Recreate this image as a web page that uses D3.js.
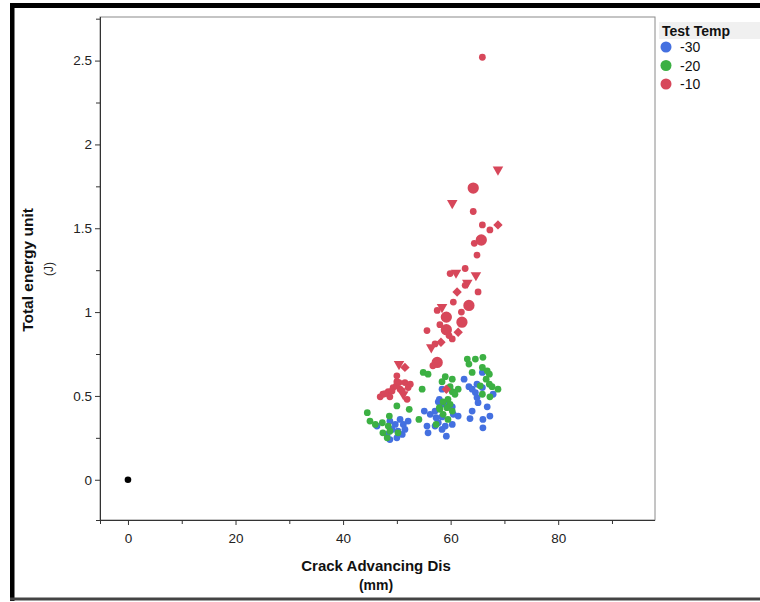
<!DOCTYPE html>
<html>
<head>
<meta charset="utf-8">
<script src="https://cdn.jsdelivr.net/npm/d3@7"></script>
<style>
  body { margin: 0; background: #fff; }
  text { font-family: "Liberation Sans", Arial, sans-serif; }
</style>
</head>
<body>
<div id="chart"></div>
<script>
// Test Temp series, [crack advancing dis (mm), total energy (J), marker kind]
// kind: s = small circle, L = large circle, t = triangle, d = diamond
const tempLabels = ["-30", "-20", "-10"];
const tempColors = ["#4470e0", "#3cb043", "#d7475a"];

const minus30 = [
  [62.5, 0.60], [65.9, 0.64], [63.4, 0.555], [64.9, 0.57], [64.0, 0.54], [64.6, 0.52],
  [65.9, 0.55], [64.9, 0.49], [67.9, 0.51], [65.1, 0.46], [66.8, 0.435], [64.0, 0.41],
  [67.3, 0.38], [63.6, 0.365], [66.0, 0.36], [66.0, 0.31], [58.4, 0.54], [57.9, 0.48],
  [58.4, 0.45], [59.3, 0.45], [57.1, 0.41], [60.3, 0.435], [60.5, 0.39], [61.4, 0.38],
  [58.4, 0.375], [57.7, 0.34], [59.0, 0.32], [60.3, 0.33], [58.4, 0.30], [59.2, 0.26],
  [57.7, 0.465], [55.1, 0.41], [56.2, 0.39], [57.3, 0.37], [55.6, 0.32], [57.1, 0.32],
  [55.8, 0.28], [48.7, 0.35], [49.7, 0.33], [50.6, 0.36], [51.2, 0.33], [52.1, 0.35],
  [49.1, 0.30], [50.2, 0.29], [48.2, 0.27], [50.0, 0.25], [51.0, 0.27], [51.5, 0.30],
  [46.3, 0.32], [48.7, 0.24]
].map(d => [d[0], d[1], "s"]);

const minus20 = [
  [54.9, 0.64], [55.8, 0.63], [54.7, 0.54], [50.0, 0.44], [52.3, 0.42], [44.5, 0.40],
  [45.0, 0.35], [46.0, 0.33], [48.6, 0.38], [54.1, 0.36], [47.3, 0.34], [48.4, 0.32],
  [48.7, 0.29], [47.4, 0.28], [48.2, 0.25], [50.2, 0.28], [57.9, 0.43], [63.1, 0.72],
  [64.6, 0.72], [66.0, 0.73], [63.4, 0.69], [65.9, 0.67], [66.8, 0.65], [64.0, 0.64],
  [67.2, 0.63], [66.6, 0.60], [67.2, 0.57], [67.7, 0.555], [68.8, 0.54], [65.5, 0.56],
  [59.0, 0.615], [60.3, 0.60], [58.4, 0.585], [59.9, 0.555], [61.4, 0.54], [60.3, 0.525],
  [60.8, 0.51], [65.9, 0.51], [67.3, 0.495], [59.5, 0.48], [58.6, 0.465], [59.9, 0.45],
  [58.0, 0.42], [59.3, 0.43], [60.3, 0.41], [58.6, 0.39], [59.5, 0.36], [57.3, 0.33]
].map(d => [d[0], d[1], "s"]);

const minus10 = [
  [65.9, 2.52, "s"], [68.8, 1.85, "t"], [64.2, 1.74, "L"], [60.3, 1.65, "t"],
  [64.2, 1.60, "s"], [65.9, 1.52, "s"], [68.8, 1.52, "d"], [67.3, 1.49, "s"],
  [65.7, 1.43, "L"], [64.4, 1.41, "s"], [64.9, 1.34, "s"], [62.7, 1.26, "s"],
  [59.9, 1.23, "s"], [61.0, 1.235, "t"], [64.7, 1.22, "t"], [63.1, 1.175, "t"],
  [65.1, 1.12, "s"], [61.2, 1.12, "d"], [60.5, 1.06, "s"], [63.4, 1.04, "L"],
  [58.4, 1.03, "t"], [57.5, 1.01, "s"], [62.0, 1.00, "s"], [59.2, 0.97, "L"],
  [58.0, 0.925, "s"], [62.1, 0.94, "L"], [55.6, 0.89, "s"], [59.2, 0.895, "L"],
  [59.7, 0.86, "s"], [61.4, 0.88, "d"], [60.3, 0.84, "s"], [58.2, 0.82, "d"],
  [57.1, 0.81, "s"], [56.4, 0.79, "t"], [57.5, 0.70, "L"], [56.7, 0.68, "s"],
  [50.4, 0.69, "t"], [51.5, 0.67, "d"], [50.0, 0.62, "s"], [50.0, 0.585, "s"],
  [51.5, 0.58, "s"], [52.5, 0.57, "s"], [49.3, 0.55, "s"], [48.4, 0.525, "s"],
  [50.6, 0.54, "s"], [47.4, 0.51, "s"], [48.7, 0.495, "s"], [46.9, 0.495, "s"],
  [51.2, 0.51, "t"], [51.9, 0.48, "s"], [59.2, 0.54, "d"], [62.7, 1.16, "s"],
  [47.8, 0.513, "s"], [49.1, 0.53, "s"], [49.9, 0.56, "s"], [51.0, 0.53, "s"],
  [52.1, 0.55, "s"], [50.4, 0.58, "s"]
];

const origin = [[0, 0]];

const xTicks = [0, 20, 40, 60, 80];
const xMinor = [10, 30, 50, 70, 90];
const yTicks = [0, 0.5, 1, 1.5, 2, 2.5];
const yMinor = [0.25, 0.75, 1.25, 1.75, 2.25, 2.75];

const width = 760, height = 602;
const plot = { left: 100, right: 655, top: 17, bottom: 520 };

const svg = d3.select("#chart").append("svg")
  .attr("width", width)
  .attr("height", height);

// outer frame
svg.append("rect").attr("x", 10).attr("y", 3).attr("width", 750).attr("height", 5).attr("fill", "#000");
svg.append("rect").attr("x", 10).attr("y", 3).attr("width", 4.5).attr("height", 598).attr("fill", "#000");
svg.append("rect").attr("x", 10).attr("y", 597.5).attr("width", 750).attr("height", 3).attr("fill", "#444");

const x = d3.scaleLinear().domain([-5.2, 98]).range([plot.left, plot.right]);
const y = d3.scaleLinear().domain([-0.24, 2.76]).range([plot.bottom, plot.top]);

// plot frame
svg.append("rect")
  .attr("x", plot.left).attr("y", plot.top)
  .attr("width", plot.right - plot.left).attr("height", plot.bottom - plot.top)
  .attr("fill", "#fff").attr("stroke", "#8a8a8a").attr("stroke-width", 1);

const fmt = d => String(d);

const xAxis = svg.append("g")
  .attr("transform", `translate(0,${plot.bottom})`)
  .call(d3.axisBottom(x).tickValues(xTicks).tickFormat(fmt).tickSize(5).tickPadding(8).tickSizeOuter(0));
svg.append("g")
  .attr("transform", `translate(0,${plot.bottom})`)
  .call(d3.axisBottom(x).tickValues(xMinor).tickSize(4).tickFormat("").tickSizeOuter(0))
  .select(".domain").remove();

const yAxis = svg.append("g")
  .attr("transform", `translate(${plot.left},0)`)
  .call(d3.axisLeft(y).tickValues(yTicks).tickFormat(fmt).tickSize(5).tickPadding(3).tickSizeOuter(0));
svg.append("g")
  .attr("transform", `translate(${plot.left},0)`)
  .call(d3.axisLeft(y).tickValues(yMinor).tickSize(4).tickFormat("").tickSizeOuter(0))
  .select(".domain").remove();

svg.selectAll(".tick line").attr("stroke", "#333");
svg.selectAll(".domain").attr("stroke", "#333");
svg.selectAll(".tick text").attr("font-size", 13.5).attr("fill", "#222")
  .style("font-family", "'Liberation Sans', Arial, sans-serif");
xAxis.select(".domain").attr("d", `M${plot.left - 4},0.5H${plot.right}`);
yAxis.select(".domain").attr("d", `M0.5,${plot.top}V${plot.bottom + 4}`);

// axis titles
svg.append("text")
  .attr("x", 376).attr("y", 571)
  .attr("text-anchor", "middle").attr("font-size", 15).attr("font-weight", "bold").attr("fill", "#111")
  .text("Crack Advancing Dis");
svg.append("text")
  .attr("x", 376).attr("y", 590)
  .attr("text-anchor", "middle").attr("font-size", 14).attr("font-weight", "bold").attr("fill", "#111")
  .text("(mm)");
svg.append("text")
  .attr("transform", "translate(33,270) rotate(-90)")
  .attr("text-anchor", "middle").attr("font-size", 15.5).attr("font-weight", "bold").attr("fill", "#111")
  .text("Total energy unit");
svg.append("text")
  .attr("transform", "translate(53,269) rotate(-90)")
  .attr("text-anchor", "middle").attr("font-size", 12).attr("fill", "#222")
  .text("(J)");

// markers
const markerShape = {
  s: { type: d3.symbolCircle, size: 36, rotate: 0 },
  L: { type: d3.symbolCircle, size: 100, rotate: 0 },
  t: { type: d3.symbolTriangle, size: 48, rotate: 180 },
  d: { type: d3.symbolSquare, size: 44, rotate: 45 }
};

const series = [minus30, minus20, minus10];
const points = svg.append("g");
series.forEach((data, i) => {
  points.append("g")
    .selectAll("path")
    .data(data)
    .join("path")
    .attr("d", d => d3.symbol().type(markerShape[d[2]].type).size(markerShape[d[2]].size)())
    .attr("transform", d => `translate(${x(d[0])},${y(d[1])}) rotate(${markerShape[d[2]].rotate})`)
    .attr("fill", tempColors[i]);
});

points.selectAll(".origin")
  .data(origin)
  .join("circle")
  .attr("class", "origin")
  .attr("cx", d => x(d[0]))
  .attr("cy", d => y(d[1]))
  .attr("r", 3.3)
  .attr("fill", "#000");

// legend
const legend = svg.append("g").attr("transform", "translate(659,22)");
legend.append("rect").attr("x", 0).attr("y", 0).attr("width", 101).attr("height", 17).attr("fill", "#f0f0f0");
legend.append("text").attr("x", 3).attr("y", 14).attr("font-size", 14).attr("font-weight", "bold")
  .attr("fill", "#111").text("Test Temp");
const items = legend.selectAll(".item")
  .data(tempLabels)
  .join("g")
  .attr("class", "item")
  .attr("transform", (d, i) => `translate(0,${25 + i * 18.5})`);
items.append("circle").attr("cx", 7).attr("cy", 0).attr("r", 5.5).attr("fill", (d, i) => tempColors[i]);
items.append("text").attr("x", 21).attr("y", 5).attr("font-size", 14).attr("fill", "#111").text(d => d);
</script>
</body>
</html>
